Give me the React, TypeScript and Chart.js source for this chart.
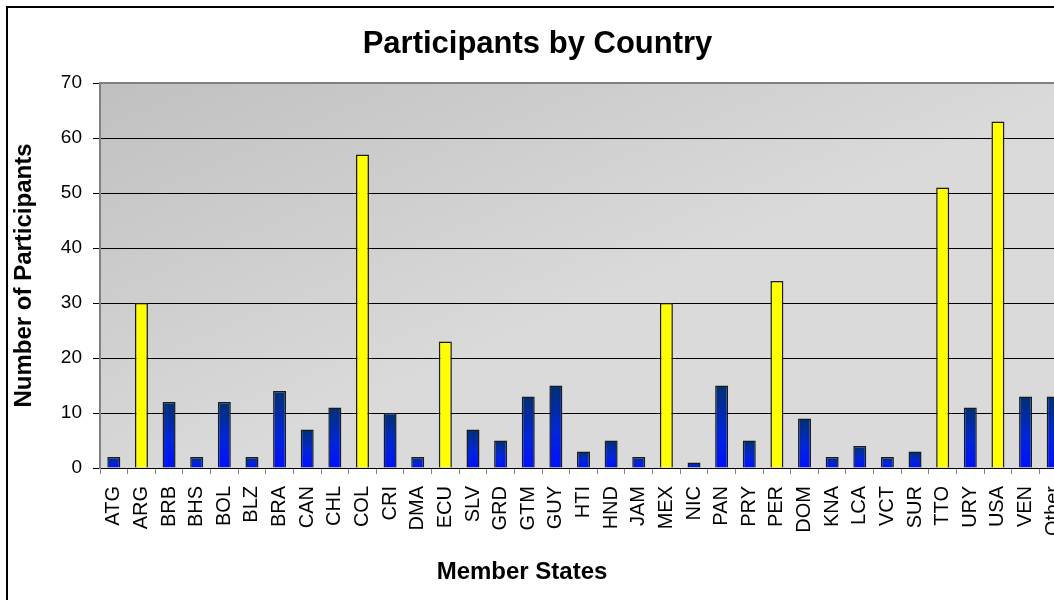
import React, { useEffect, useRef } from "react";
import { Chart, registerables } from "chart.js";

Chart.register(...registerables);

const countries = [
  "ATG", "ARG", "BRB", "BHS", "BOL", "BLZ", "BRA", "CAN", "CHL", "COL",
  "CRI", "DMA", "ECU", "SLV", "GRD", "GTM", "GUY", "HTI", "HND", "JAM",
  "MEX", "NIC", "PAN", "PRY", "PER", "DOM", "KNA", "LCA", "VCT", "SUR",
  "TTO", "URY", "USA", "VEN", "Other",
];
const participants = [
  2, 30, 12, 2, 12, 2, 14, 7, 11, 57,
  10, 2, 23, 7, 5, 13, 15, 3, 5, 2,
  30, 1, 15, 5, 34, 9, 2, 4, 2, 3,
  51, 11, 63, 13, 13,
];
const yMin = 0;
const yMax = 70;
const yStep = 10;
const highlightThreshold = 20;

const chartTitle = "Participants by Country";
const xAxisTitle = "Member States";
const yAxisTitle = "Number of Participants";

const FONT = "'Liberation Sans', Arial, sans-serif";

const plotBackground = {
  id: "plotBackground",
  beforeDraw(chart: any) {
    const { ctx, chartArea: a } = chart;
    if (!a) return;
    const g = ctx.createLinearGradient(a.left, a.top, a.left + 157, a.top + 368);
    g.addColorStop(0, "#c0c0c0");
    g.addColorStop(1, "#dadada");
    ctx.save();
    ctx.fillStyle = g;
    ctx.fillRect(a.left, a.top, a.right - a.left, a.bottom - a.top);
    ctx.restore();
  },
};

const plotFrame = {
  id: "plotFrame",
  afterDatasetsDraw(chart: any) {
    const { ctx, chartArea: a } = chart;
    ctx.save();
    ctx.strokeStyle = "#808080";
    ctx.lineWidth = 2;
    ctx.beginPath();
    ctx.moveTo(a.left - 1, a.top);
    ctx.lineTo(a.right, a.top);
    ctx.stroke();
    ctx.restore();
  },
};

const xTitlePlugin = {
  id: "xTitlePlugin",
  afterDraw(chart: any) {
    const { ctx } = chart;
    ctx.save();
    ctx.font = `bold 24px ${FONT}`;
    ctx.fillStyle = "#000";
    ctx.textAlign = "center";
    ctx.textBaseline = "middle";
    ctx.fillText(xAxisTitle, 514, 564);
    ctx.restore();
  },
};

export default function App() {
  const ref = useRef<HTMLCanvasElement | null>(null);

  useEffect(() => {
    if (!ref.current) return;
    Chart.defaults.color = "#000";
    const chart = new Chart(ref.current, {
      type: "bar",
      data: {
        labels: countries,
        datasets: [
          {
            data: participants,
            backgroundColor: (c: any) => {
              const v = c.raw as number;
              if (v >= highlightThreshold) return "#ffff00";
              const ch = c.chart;
              const ys = ch.scales && ch.scales.y;
              if (!ch.chartArea || !ys) return "#0022ee";
              const top = ys.getPixelForValue(v);
              const bottom = ys.getPixelForValue(0);
              const g = ch.ctx.createLinearGradient(0, top, 0, bottom);
              g.addColorStop(0, "#003070");
              g.addColorStop(0.55, "#0026d8");
              g.addColorStop(1, "#0010ff");
              return g;
            },
            borderColor: "#1a1a1a",
            borderWidth: 1.5,
            barPercentage: 0.47,
            categoryPercentage: 1,
          },
        ],
      },
      options: {
        animation: false,
        responsive: true,
        maintainAspectRatio: false,
        layout: { padding: { left: 0, right: 30, top: 0, bottom: 0 } },
        plugins: {
          legend: { display: false },
          tooltip: { enabled: false },
          title: {
            display: true,
            text: chartTitle,
            color: "#000",
            font: { family: FONT, size: 31, weight: "bold", lineHeight: 1.2 },
            padding: { top: 18, bottom: 19.8 },
          },
        },
        scales: {
          x: {
            grid: {
              display: true,
              offset: true,
              drawOnChartArea: false,
              drawTicks: true,
              tickLength: 6,
              color: "#808080",
            },
            border: { display: true, color: "#000", width: 1 },
            ticks: {
              autoSkip: false,
              maxRotation: 90,
              minRotation: 90,
              padding: 12,
              color: "#000",
              font: { family: FONT, size: 20 },
            },
            afterFit(scale: any) {
              scale.height = 132;
            },
          },
          y: {
            min: yMin,
            max: yMax,
            ticks: {
              stepSize: yStep,
              padding: 11,
              color: "#000",
              font: { family: FONT, size: 19 },
            },
            grid: {
              color: "#000",
              lineWidth: 1,
              drawTicks: true,
              tickLength: 7,
            },
            border: { display: true, color: "#808080", width: 2 },
            title: {
              display: true,
              text: yAxisTitle,
              color: "#000",
              font: { family: FONT, size: 24, weight: "bold", lineHeight: 1.2 },
              padding: { top: 2, bottom: 0 },
            },
            afterFit(scale: any) {
              scale.width = 92;
            },
          },
        },
      },
      plugins: [plotBackground, plotFrame, xTitlePlugin],
    } as any);
    return () => chart.destroy();
  }, []);

  return (
    <div
      style={{
        position: "fixed",
        left: 0,
        top: 0,
        width: 1054,
        height: 600,
        overflow: "hidden",
        background: "#fff",
      }}
    >
      <div
        style={{
          position: "absolute",
          left: 6,
          top: 6,
          width: 1200,
          height: 700,
          borderLeft: "2px solid #000",
          borderTop: "2px solid #000",
          boxSizing: "border-box",
        }}
      >
        <div style={{ position: "absolute", left: 0, top: 0, width: 1089, height: 592 }}>
          <canvas ref={ref} />
        </div>
      </div>
    </div>
  );
}
